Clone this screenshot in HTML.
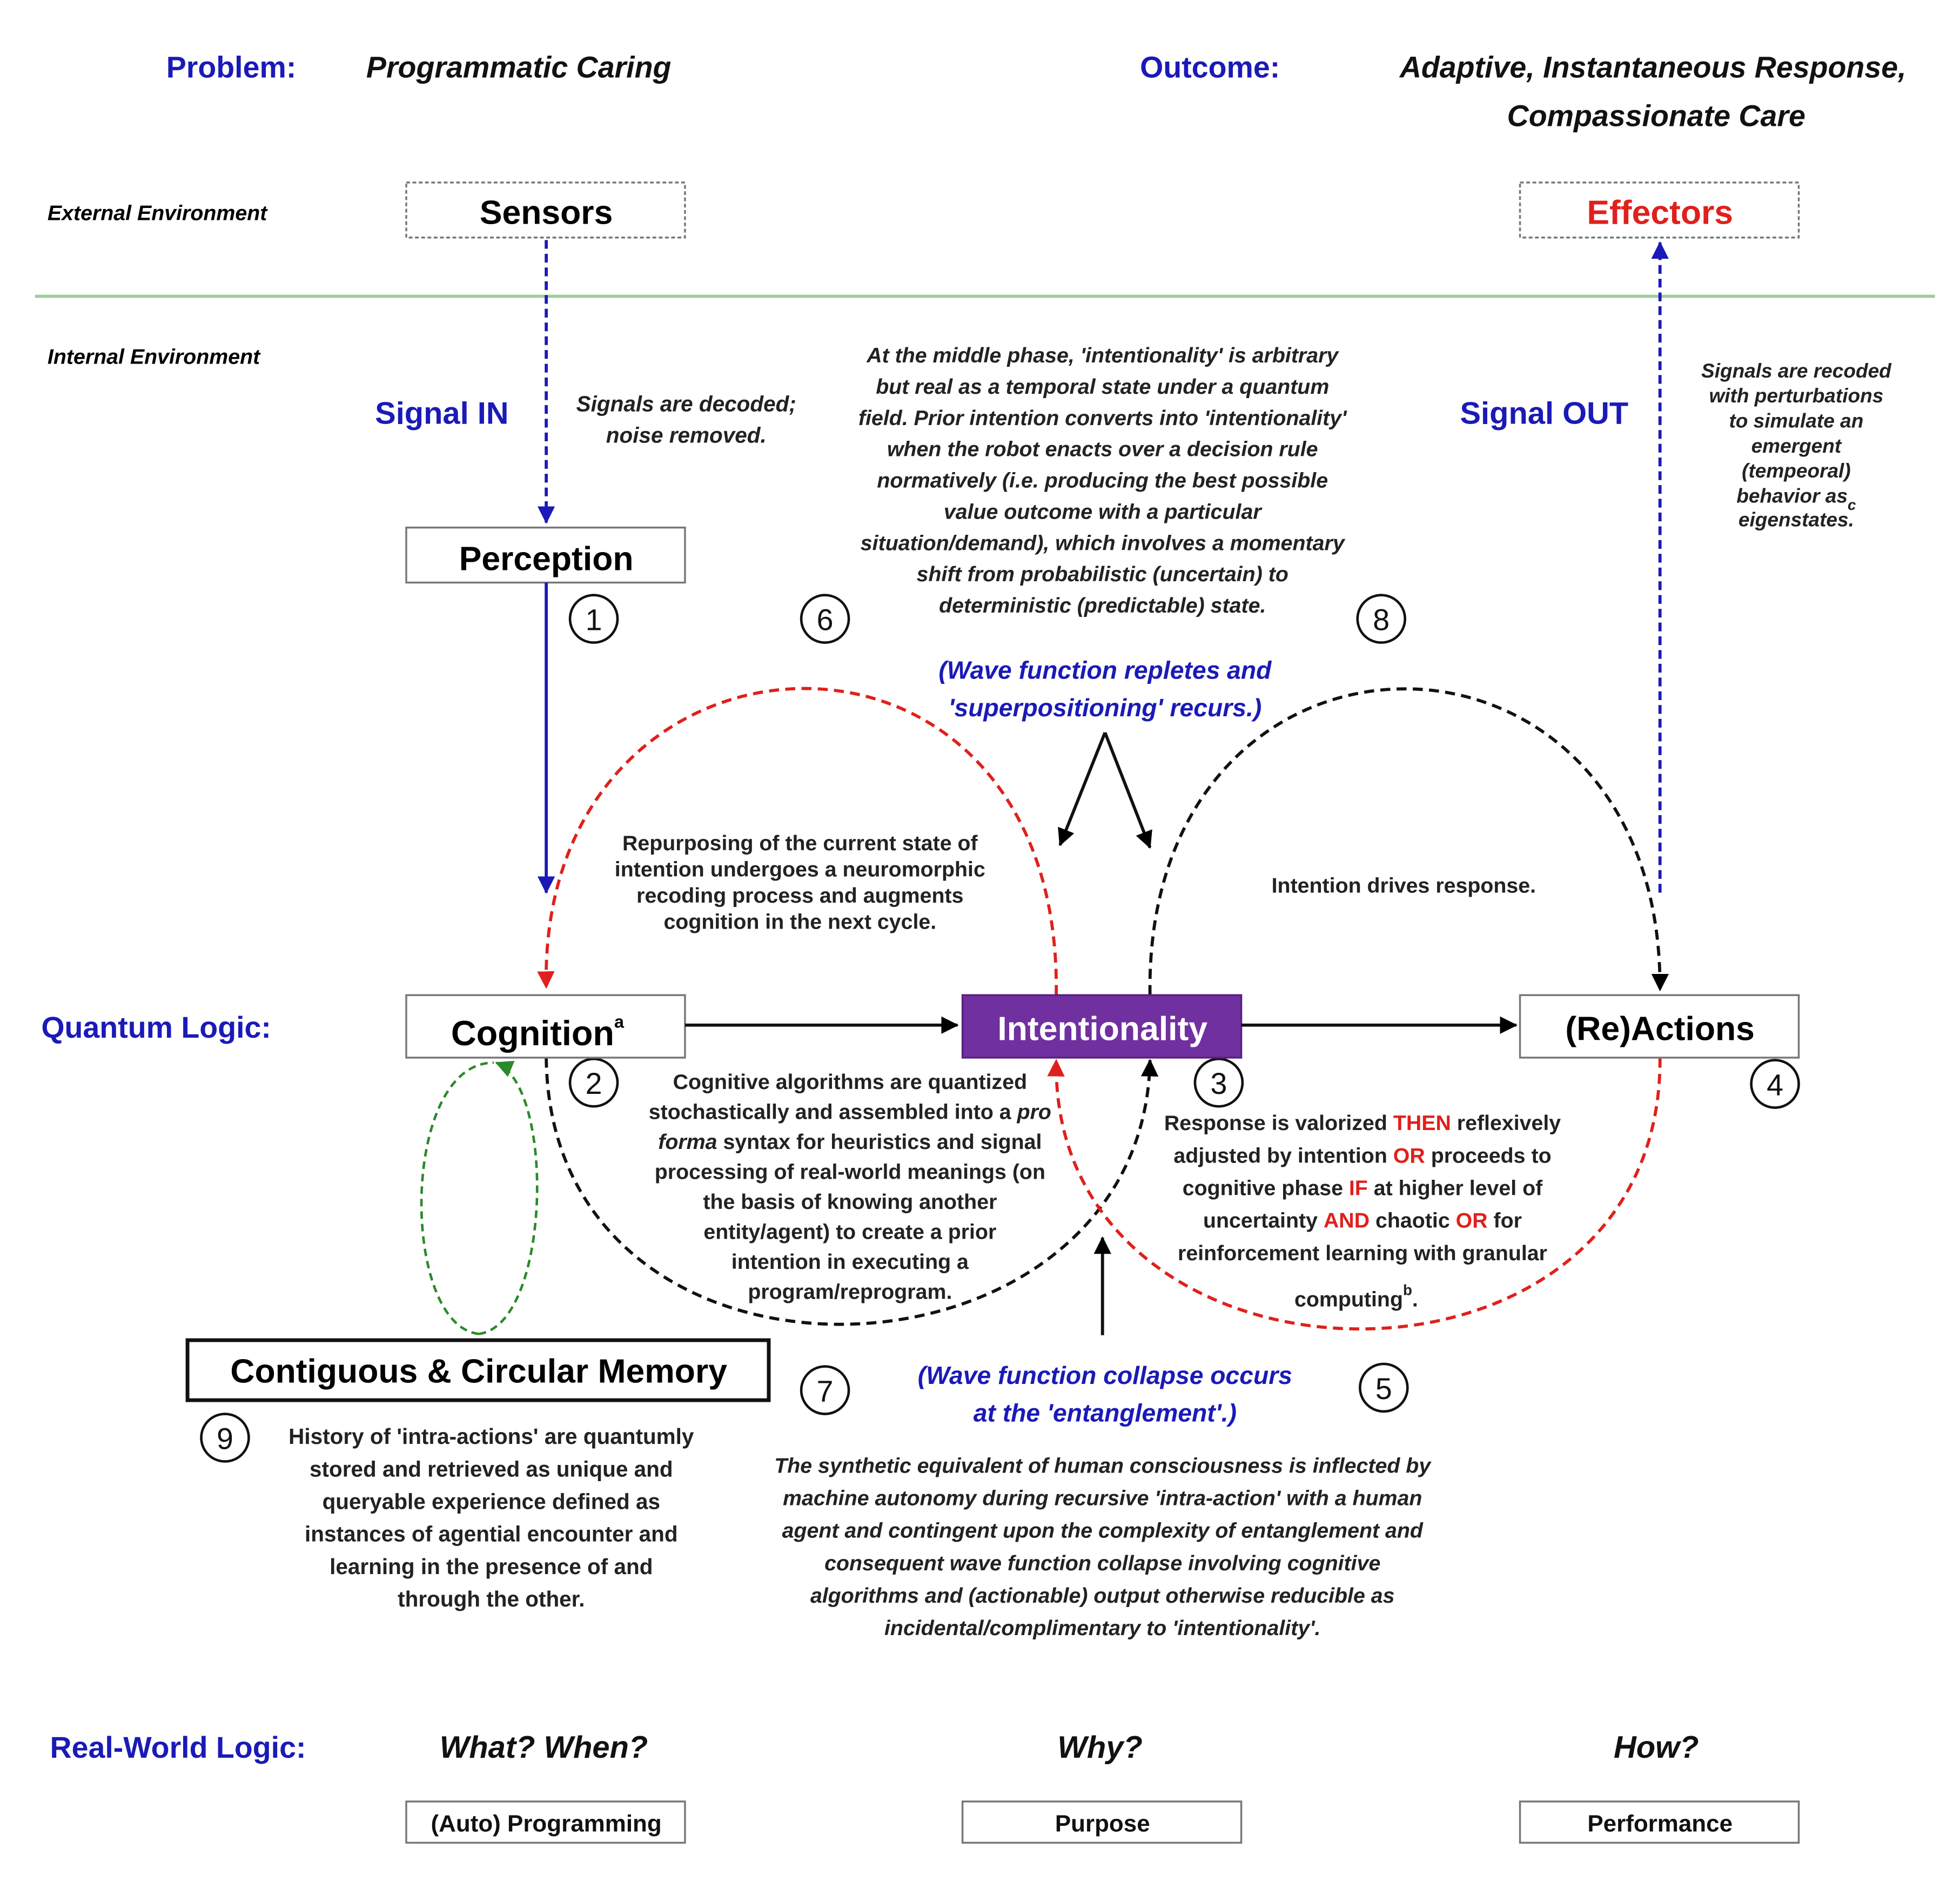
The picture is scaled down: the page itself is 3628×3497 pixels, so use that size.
<!DOCTYPE html>
<html><head><meta charset="utf-8"><style>html,body{margin:0;padding:0;background:#fff}svg{display:block}</style></head>
<body>
<svg width="3628" height="3497" viewBox="0 0 1568 1511" preserveAspectRatio="none" xmlns="http://www.w3.org/2000/svg" font-family="Liberation Sans, sans-serif">
<defs>
<marker id="ak" markerWidth="14" markerHeight="14" refX="13" refY="7" orient="auto" markerUnits="userSpaceOnUse" viewBox="0 0 14 14"><path d="M0,0 L14,7 L0,14 z" fill="#000"/></marker>
<marker id="abl" markerWidth="14" markerHeight="14" refX="13" refY="7" orient="auto" markerUnits="userSpaceOnUse" viewBox="0 0 14 14"><path d="M0,0 L14,7 L0,14 z" fill="#1a1ab8"/></marker>
<marker id="ar" markerWidth="14" markerHeight="14" refX="13" refY="7" orient="auto" markerUnits="userSpaceOnUse" viewBox="0 0 14 14"><path d="M0,0 L14,7 L0,14 z" fill="#e0201c"/></marker>
<marker id="ag" markerWidth="14" markerHeight="14" refX="13" refY="7" orient="auto" markerUnits="userSpaceOnUse" viewBox="0 0 14 14"><path d="M0,0 L14,7 L0,14 z" fill="#2a8a2a"/></marker>
</defs>

<g font-weight="bold">
<text x="133" y="62" font-size="24" fill="#1a1ab8">Problem:</text>
<text x="293" y="62" font-size="24" font-style="italic" fill="#111">Programmatic Caring</text>
<text x="912" y="62" font-size="24" fill="#1a1ab8">Outcome:</text>
<text x="1525" y="62" font-size="24" font-style="italic" text-anchor="end" fill="#111">Adaptive, Instantaneous Response,</text>
<text x="1325" y="101" font-size="24" font-style="italic" text-anchor="middle" fill="#111">Compassionate Care</text>
<text x="38" y="176" font-size="17" font-style="italic">External Environment</text>
<text x="38" y="291" font-size="17" font-style="italic">Internal Environment</text>
</g>

<rect x="325" y="146" width="223" height="44" fill="#fff" stroke="#777" stroke-width="1.5" stroke-dasharray="3,2"/>
<text x="437" y="179" font-size="27" text-anchor="middle" font-weight="bold">Sensors</text>
<rect x="1216" y="146" width="223" height="44" fill="#fff" stroke="#777" stroke-width="1.5" stroke-dasharray="3,2"/>
<text x="1328" y="179" font-size="27" text-anchor="middle" font-weight="bold" fill="#e0201c">Effectors</text>

<line x1="28" y1="237" x2="1548" y2="237" stroke="#9ccf9c" stroke-width="2.5"/>

<text x="300" y="339" font-size="25" font-weight="bold" fill="#1a1ab8">Signal IN</text>
<text x="1168" y="339" font-size="25" font-weight="bold" fill="#1a1ab8">Signal OUT</text>

<line x1="437" y1="192" x2="437" y2="418" stroke="#1a1ab8" stroke-width="2.5" stroke-dasharray="7,4" marker-end="url(#abl)"/>
<line x1="1328" y1="714" x2="1328" y2="194" stroke="#1a1ab8" stroke-width="2.5" stroke-dasharray="7,4" marker-end="url(#abl)"/>

<g font-size="17.5" font-weight="bold" font-style="italic" text-anchor="middle" fill="#222">
<text x="549" y="329">Signals are decoded;</text>
<text x="549" y="354">noise removed.</text>
</g>
<g font-size="17" font-weight="bold" font-style="italic" text-anchor="middle" fill="#222">
<text x="882" y="290">At the middle phase, 'intentionality' is arbitrary</text>
<text x="882" y="315">but real as a temporal state under a quantum</text>
<text x="882" y="340">field. Prior intention converts into 'intentionality'</text>
<text x="882" y="365">when the robot enacts over a decision rule</text>
<text x="882" y="390">normatively (i.e. producing the best possible</text>
<text x="882" y="415">value outcome with a particular</text>
<text x="882" y="440">situation/demand), which involves a momentary</text>
<text x="882" y="465">shift from probabilistic (uncertain) to</text>
<text x="882" y="490">deterministic (predictable) state.</text>
</g>
<g font-size="16" font-weight="bold" font-style="italic" text-anchor="middle" fill="#222">
<text x="1437" y="302">Signals are recoded</text>
<text x="1437" y="322">with perturbations</text>
<text x="1437" y="342">to simulate an</text>
<text x="1437" y="362">emergent</text>
<text x="1437" y="382">(tempeoral)</text>
<text x="1437" y="402">behavior as<tspan font-size="12" dy="6">c</tspan></text>
<text x="1437" y="421">eigenstates.</text>
</g>

<rect x="325" y="422" width="223" height="44" fill="#fff" stroke="#777" stroke-width="1.5"/>
<text x="437" y="456" font-size="27" text-anchor="middle" font-weight="bold">Perception</text>
<line x1="437" y1="466" x2="437" y2="714" stroke="#1a1ab8" stroke-width="2.5" marker-end="url(#abl)"/>

<g fill="#fff" stroke="#111" stroke-width="2">
<circle cx="475" cy="495" r="19"/><circle cx="660" cy="495" r="19"/><circle cx="1105" cy="495" r="19"/>
<circle cx="475" cy="866" r="19"/><circle cx="975" cy="866" r="19"/><circle cx="1420" cy="867" r="19"/>
<circle cx="660" cy="1112" r="19"/><circle cx="1107" cy="1110" r="19"/><circle cx="180" cy="1150" r="19"/>
</g>
<g font-size="24" text-anchor="middle" fill="#111">
<text x="475" y="504">1</text><text x="660" y="504">6</text><text x="1105" y="504">8</text>
<text x="475" y="875">2</text><text x="975" y="875">3</text><text x="1420" y="876">4</text>
<text x="660" y="1121">7</text><text x="1107" y="1119">5</text><text x="180" y="1159">9</text>
</g>

<g font-size="20" font-weight="bold" font-style="italic" text-anchor="middle" fill="#1a1ab8">
<text x="884" y="543">(Wave function repletes and</text>
<text x="884" y="573">'superpositioning' recurs.)</text>
<text x="884" y="1107">(Wave function collapse occurs</text>
<text x="884" y="1137">at the 'entanglement'.)</text>
</g>

<line x1="884" y1="586" x2="848" y2="676" stroke="#111" stroke-width="2.5" marker-end="url(#ak)"/>
<line x1="884" y1="586" x2="920" y2="678" stroke="#111" stroke-width="2.5" marker-end="url(#ak)"/>

<path d="M845,796 C850,460 430,480 437,790" fill="none" stroke="#e0201c" stroke-width="2.5" stroke-dasharray="8,5" marker-end="url(#ar)"/>
<path d="M920,796 C915,470 1330,470 1328,792" fill="none" stroke="#111" stroke-width="2.5" stroke-dasharray="8,5" marker-end="url(#ak)"/>
<path d="M437,846 C440,1140 915,1120 920,848" fill="none" stroke="#111" stroke-width="2.5" stroke-dasharray="8,5" marker-end="url(#ak)"/>
<path d="M1328,846 C1330,1140 840,1130 845,848" fill="none" stroke="#e0201c" stroke-width="2.5" stroke-dasharray="8,5" marker-end="url(#ar)"/>
<path d="M383,1067 C320,1060 320,850 395,850" fill="none" stroke="#2a8a2a" stroke-width="2" stroke-dasharray="6,4"/>
<path d="M383,1067 C440,1060 445,870 397,850" fill="none" stroke="#2a8a2a" stroke-width="2" stroke-dasharray="6,4" marker-end="url(#ag)"/>

<g font-size="17" font-weight="bold" text-anchor="middle" fill="#222">
<text x="640" y="680">Repurposing of the current state of</text>
<text x="640" y="701">intention undergoes a neuromorphic</text>
<text x="640" y="722">recoding process and augments</text>
<text x="640" y="743">cognition in the next cycle.</text>
<text x="1123" y="714">Intention drives response.</text>
</g>

<text x="33" y="830" font-size="24" font-weight="bold" fill="#1a1ab8">Quantum Logic:</text>

<rect x="325" y="796" width="223" height="50" fill="#fff" stroke="#777" stroke-width="1.5"/>
<text x="430" y="836" font-size="28" text-anchor="middle" font-weight="bold">Cognition<tspan font-size="14" dy="-14">a</tspan></text>
<line x1="548" y1="820" x2="766" y2="820" stroke="#111" stroke-width="2.5" marker-end="url(#ak)"/>
<rect x="770" y="796" width="223" height="50" fill="#7030a0" stroke="#5a2080" stroke-width="1.5"/>
<text x="882" y="832" font-size="27" text-anchor="middle" font-weight="bold" fill="#fff">Intentionality</text>
<line x1="993" y1="820" x2="1213" y2="820" stroke="#111" stroke-width="2.5" marker-end="url(#ak)"/>
<rect x="1216" y="796" width="223" height="50" fill="#fff" stroke="#777" stroke-width="1.5"/>
<text x="1328" y="832" font-size="27" text-anchor="middle" font-weight="bold">(Re)Actions</text>

<g font-size="17" font-weight="bold" text-anchor="middle" fill="#222">
<text x="680" y="871">Cognitive algorithms are quantized</text>
<text x="680" y="895">stochastically and assembled into a <tspan font-style="italic">pro</tspan></text>
<text x="680" y="919"><tspan font-style="italic">forma</tspan> syntax for heuristics and signal</text>
<text x="680" y="943">processing of real-world meanings (on</text>
<text x="680" y="967">the basis of knowing another</text>
<text x="680" y="991">entity/agent) to create a prior</text>
<text x="680" y="1015">intention in executing a</text>
<text x="680" y="1039">program/reprogram.</text>
</g>
<g font-size="17" font-weight="bold" text-anchor="middle" fill="#222">
<text x="1090" y="904">Response is valorized <tspan fill="#e0201c">THEN</tspan> reflexively</text>
<text x="1090" y="930">adjusted by intention <tspan fill="#e0201c">OR</tspan> proceeds to</text>
<text x="1090" y="956">cognitive phase <tspan fill="#e0201c">IF</tspan> at higher level of</text>
<text x="1090" y="982">uncertainty <tspan fill="#e0201c">AND</tspan> chaotic <tspan fill="#e0201c">OR</tspan> for</text>
<text x="1090" y="1008">reinforcement learning with granular</text>
<text x="1085" y="1045">computing<tspan font-size="12" dy="-9">b</tspan><tspan dy="9">.</tspan></text>
</g>
<line x1="882" y1="1068" x2="882" y2="990" stroke="#111" stroke-width="2.5" marker-end="url(#ak)"/>

<rect x="150" y="1072" width="465" height="48" fill="#fff" stroke="#111" stroke-width="3"/>
<text x="383" y="1106" font-size="27" text-anchor="middle" font-weight="bold">Contiguous &amp; Circular Memory</text>

<g font-size="17.5" font-weight="bold" text-anchor="middle" fill="#222">
<text x="393" y="1155">History of 'intra-actions' are quantumly</text>
<text x="393" y="1181">stored and retrieved as unique and</text>
<text x="393" y="1207">queryable experience defined as</text>
<text x="393" y="1233">instances of agential encounter and</text>
<text x="393" y="1259">learning in the presence of and</text>
<text x="393" y="1285">through the other.</text>
</g>
<g font-size="17" font-weight="bold" font-style="italic" text-anchor="middle" fill="#222">
<text x="882" y="1178">The synthetic equivalent of human consciousness is inflected by</text>
<text x="882" y="1204">machine autonomy during recursive 'intra-action' with a human</text>
<text x="882" y="1230">agent and contingent upon the complexity of entanglement and</text>
<text x="882" y="1256">consequent wave function collapse involving cognitive</text>
<text x="882" y="1282">algorithms and (actionable) output otherwise reducible as</text>
<text x="882" y="1308">incidental/complimentary to 'intentionality'.</text>
</g>

<text x="40" y="1406" font-size="24" font-weight="bold" fill="#1a1ab8">Real-World Logic:</text>
<g font-size="25" font-weight="bold" font-style="italic" text-anchor="middle" fill="#111">
<text x="435" y="1406">What? When?</text><text x="880" y="1406">Why?</text><text x="1325" y="1406">How?</text>
</g>
<g fill="#fff" stroke="#777" stroke-width="1.5">
<rect x="325" y="1441" width="223" height="33"/><rect x="770" y="1441" width="223" height="33"/><rect x="1216" y="1441" width="223" height="33"/>
</g>
<g font-size="19" font-weight="bold" text-anchor="middle" fill="#111">
<text x="437" y="1465">(Auto) Programming</text><text x="882" y="1465">Purpose</text><text x="1328" y="1465">Performance</text>
</g>
</svg>
</body></html>
